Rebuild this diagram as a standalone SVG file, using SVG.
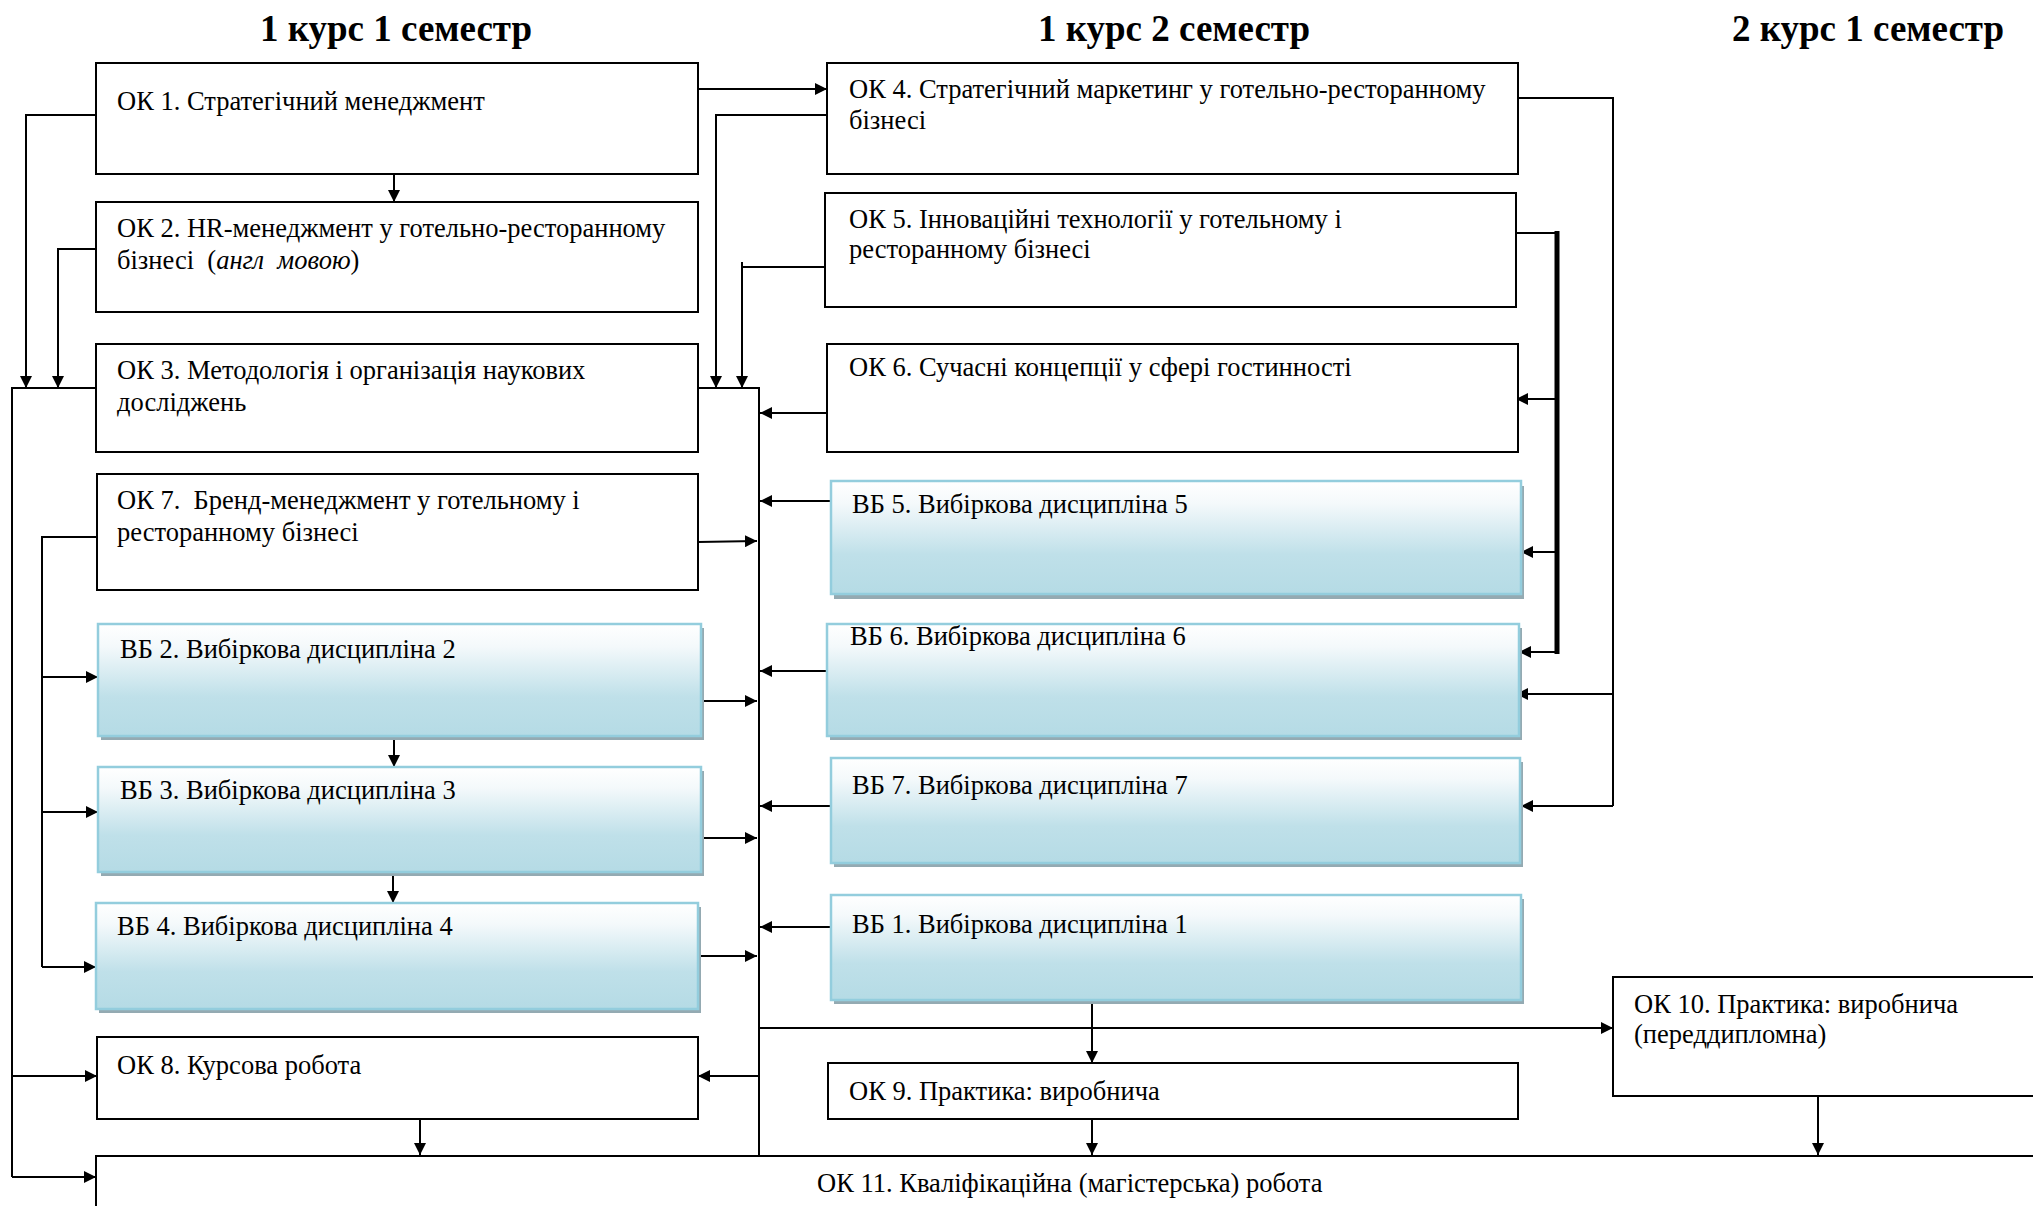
<svg xmlns="http://www.w3.org/2000/svg" width="2033" height="1206" viewBox="0 0 2033 1206">
<defs>
<style>
.t{font-family:"Liberation Serif","Times New Roman",serif;font-size:26.5px;fill:#000;white-space:pre}
.h{font-family:"Liberation Serif","Times New Roman",serif;font-size:37px;font-weight:bold;fill:#000;text-anchor:middle}
.ok{fill:#fff;stroke:#000;stroke-width:2}
.vb{fill:url(#g);stroke:#93cddd;stroke-width:2.5}
.sh{fill:#94aab2}
.c{fill:none;stroke:#000;stroke-width:2}
.a{fill:none;stroke:#000;stroke-width:2;marker-end:url(#ar)}
</style>
<linearGradient id="g" x1="0" y1="0" x2="0" y2="1">
<stop offset="0" stop-color="#ffffff"/>
<stop offset="0.2" stop-color="#f4f9fb"/>
<stop offset="0.65" stop-color="#bfe0e9"/>
<stop offset="1" stop-color="#b5dbe5"/>
</linearGradient>
<marker id="ar" markerUnits="userSpaceOnUse" markerWidth="13" markerHeight="12" refX="12" refY="6" orient="auto">
<path d="M0,0 L12,6 L0,12 z" fill="#000"/>
</marker>
</defs>

<g id="titles">
<text class="h" x="396" y="41">1 курс 1 семестр</text>
<text class="h" x="1174" y="41">1 курс 2 семестр</text>
<text class="h" x="1868" y="41">2 курс 1 семестр</text>
</g>

<g id="connectors">
<path class="a" d="M698,89 H827"/>
<path class="a" d="M394,174 V202"/>
<path class="a" d="M96,115 H26 V388"/>
<path class="a" d="M96,249 H58 V388"/>
<path class="c" d="M96,388 H12 V1177"/>
<path class="a" d="M12,1177 H96"/>
<path class="a" d="M12,1076 H97"/>
<path class="a" d="M827,115 H716 V388"/>
<path class="c" d="M832,267 H742"/>
<path class="a" d="M742,262 V388"/>
<path class="c" d="M698,388 H759 V1155"/>
<path class="a" d="M827,413 H760"/>
<path class="a" d="M831,501 H760"/>
<path class="a" d="M827,671 H760"/>
<path class="a" d="M831,806 H760"/>
<path class="a" d="M831,927 H760"/>
<path class="a" d="M758,1076 H698"/>
<path class="a" d="M698,542 L757,541"/>
<path class="a" d="M701,701 H757"/>
<path class="a" d="M701,838 H757"/>
<path class="a" d="M698,956 H757"/>
<path class="c" d="M97,537 H42 V967"/>
<path class="a" d="M42,967 H96"/>
<path class="a" d="M42,677 H98"/>
<path class="a" d="M42,812 H98"/>
<path class="a" d="M394,732 V767"/>
<path class="a" d="M393,872 V903"/>
<path class="a" d="M420,1113 V1155"/>
<path class="a" d="M1092,1113 V1155"/>
<path class="a" d="M1818,1090 V1155"/>
<path class="a" d="M1092,1000 V1063"/>
<path class="a" d="M760,1028 H1613"/>
<path class="c" d="M1518,98 H1613 V806"/>
<path class="a" d="M1613,806 H1521"/>
<path class="a" d="M1613,694 H1516"/>
<path class="c" d="M1516,233 H1557"/>
<path fill="none" stroke="#000" stroke-width="5" d="M1557,231 V654"/>
<path class="a" d="M1557,399 H1516"/>
<path class="a" d="M1557,552 H1521"/>
<path class="a" d="M1559,652 H1519"/>
</g>

<g id="ok1"><rect class="ok" x="96" y="63" width="602" height="111"/><text class="t" x="117" y="110">ОК 1. Стратегічний менеджмент</text></g>
<g id="ok2"><rect class="ok" x="96" y="202" width="602" height="110"/><text class="t" x="117" y="237">ОК 2. HR-менеджмент у готельно-ресторанному</text><text class="t" x="117" y="269" xml:space="preserve">бізнесі  (<tspan font-style="italic">англ  мовою</tspan>)</text></g>
<g id="ok3"><rect class="ok" x="96" y="344" width="602" height="108"/><text class="t" x="117" y="379">ОК 3. Методологія і організація наукових</text><text class="t" x="117" y="411">досліджень</text></g>
<g id="ok7"><rect class="ok" x="97" y="474" width="601" height="116"/><text class="t" x="117" y="509" xml:space="preserve">ОК 7.  Бренд-менеджмент у готельному і</text><text class="t" x="117" y="541">ресторанному бізнесі</text></g>
<g id="vb2"><rect class="sh" x="101" y="628" width="603" height="112"/><rect class="vb" x="98" y="624" width="603" height="112"/><text class="t" x="120" y="658">ВБ 2. Вибіркова дисципліна 2</text></g>
<g id="vb3"><rect class="sh" x="101" y="771" width="603" height="105"/><rect class="vb" x="98" y="767" width="603" height="105"/><text class="t" x="120" y="799">ВБ 3. Вибіркова дисципліна 3</text></g>
<g id="vb4"><rect class="sh" x="99" y="907" width="602" height="106"/><rect class="vb" x="96" y="903" width="602" height="106"/><text class="t" x="117" y="935">ВБ 4. Вибіркова дисципліна 4</text></g>
<g id="ok8"><rect class="ok" x="97" y="1037" width="601" height="82"/><text class="t" x="117" y="1074">ОК 8. Курсова робота</text></g>

<g id="ok4"><rect class="ok" x="827" y="63" width="691" height="111"/><text class="t" x="849" y="98">ОК 4. Стратегічний маркетинг у готельно-ресторанному</text><text class="t" x="849" y="129">бізнесі</text></g>
<g id="ok5"><rect class="ok" x="825" y="193" width="691" height="114"/><text class="t" x="849" y="228">ОК 5. Інноваційні технології у готельному і</text><text class="t" x="849" y="258">ресторанному бізнесі</text></g>
<g id="ok6"><rect class="ok" x="827" y="344" width="691" height="108"/><text class="t" x="849" y="376">ОК 6. Сучасні концепції у сфері гостинності</text></g>
<g id="vb5"><rect class="sh" x="834" y="486" width="690" height="113"/><rect class="vb" x="831" y="481" width="690" height="113"/><text class="t" x="852" y="513">ВБ 5. Вибіркова дисципліна 5</text></g>
<g id="vb6"><rect class="sh" x="830" y="628" width="692" height="112"/><rect class="vb" x="827" y="624" width="692" height="112"/><text class="t" x="850" y="645">ВБ 6. Вибіркова дисципліна 6</text></g>
<g id="vb7"><rect class="sh" x="834" y="762" width="689" height="105"/><rect class="vb" x="831" y="758" width="689" height="105"/><text class="t" x="852" y="794">ВБ 7. Вибіркова дисципліна 7</text></g>
<g id="vb1"><rect class="sh" x="834" y="899" width="690" height="105"/><rect class="vb" x="831" y="895" width="690" height="105"/><text class="t" x="852" y="933">ВБ 1. Вибіркова дисципліна 1</text></g>
<g id="ok9"><rect class="ok" x="828" y="1063" width="690" height="56"/><text class="t" x="849" y="1100">ОК 9. Практика: виробнича</text></g>

<g id="ok10"><rect class="ok" x="1613" y="977" width="500" height="119"/><text class="t" x="1634" y="1013">ОК 10. Практика: виробнича</text><text class="t" x="1634" y="1043">(переддипломна)</text></g>
<g id="ok11"><rect class="ok" x="96" y="1156" width="2000" height="100"/><text class="t" x="817" y="1192">ОК 11. Кваліфікаційна (магістерська) робота</text></g>
</svg>
